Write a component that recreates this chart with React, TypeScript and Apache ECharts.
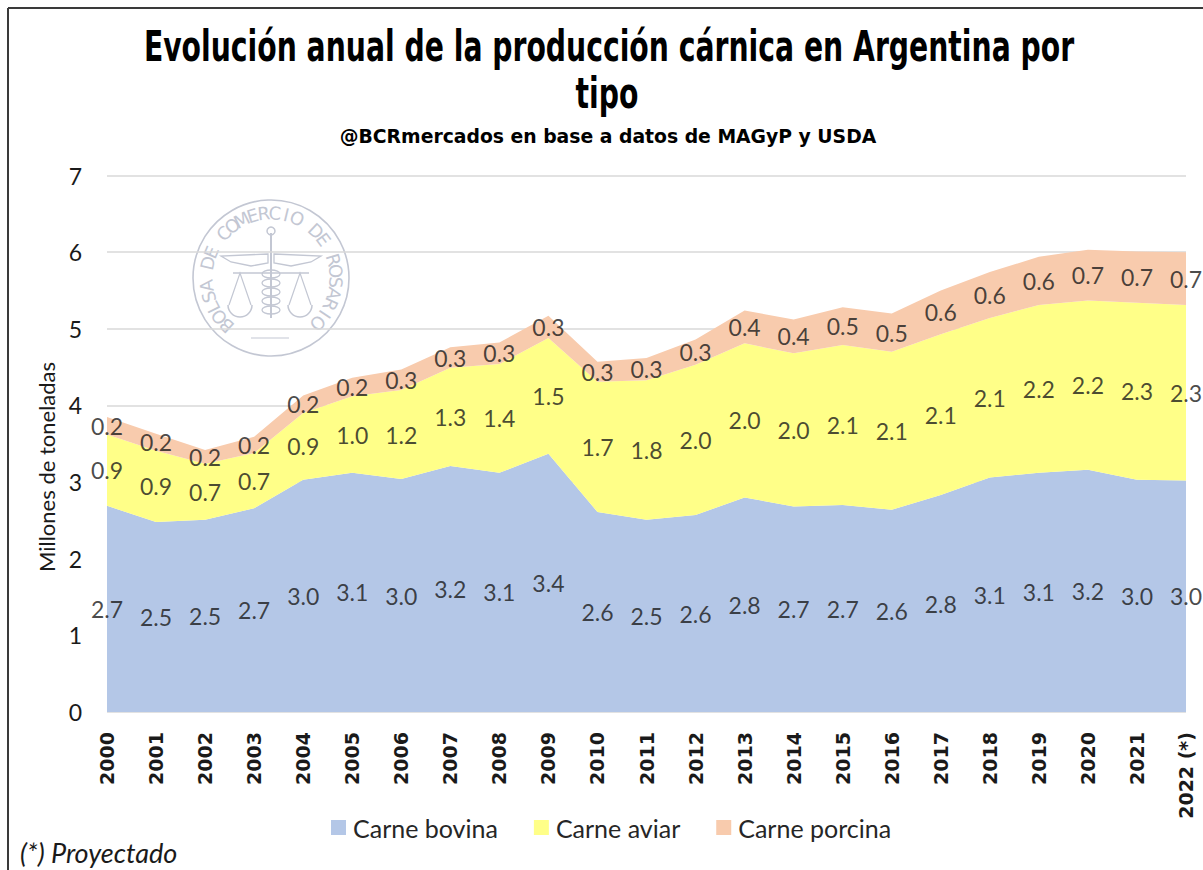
import React, { useEffect, useRef } from "react";
import * as echarts from "echarts";

const years = ["2000","2001","2002","2003","2004","2005","2006","2007","2008","2009","2010","2011","2012","2013","2014","2015","2016","2017","2018","2019","2020","2021","2022 (*)"];
const bovina = [2.69,2.48,2.51,2.66,3.03,3.12,3.04,3.21,3.12,3.37,2.61,2.51,2.57,2.80,2.68,2.70,2.64,2.83,3.06,3.12,3.16,3.03,3.02];
const aviar = [0.93,0.93,0.73,0.72,0.87,1.00,1.16,1.28,1.42,1.51,1.70,1.82,1.96,2.01,2.00,2.09,2.06,2.10,2.08,2.19,2.21,2.31,2.29];
const porcina = [0.23,0.22,0.18,0.21,0.23,0.24,0.27,0.27,0.28,0.29,0.26,0.29,0.33,0.43,0.44,0.49,0.50,0.57,0.60,0.63,0.66,0.67,0.69];
const seriesNames = ["Carne bovina", "Carne aviar", "Carne porcina"];
const colors = ["#B4C7E7", "#FFFF88", "#F8CBAD"];
const yMin = 0;
const yMax = 7;
const yStep = 1;
const titleLine1 = "Evolución anual de la producción cárnica en Argentina por";
const titleLine2 = "tipo";
const subtitle = "@BCRmercados en base a datos de MAGyP y USDA";
const yAxisTitle = "Millones de toneladas";
const footnote = "(*) Proyectado";
const sealText = "BOLSA DE COMERCIO DE ROSARIO";

const LABEL_FONT = "Lato, 'Open Sans', sans-serif";
const TITLE_FONT = "'DejaVu Sans', sans-serif";

function sealGraphics() {
  const cx = 271, cy = 278, r = 78, tr = 65;
  const col = "#c3c7d3";
  const els: any[] = [];
  els.push({ type: "circle", shape: { cx, cy, r }, style: { fill: "none", stroke: col, lineWidth: 1.6 }, silent: true });
  const start = -137, end = 134;
  const n = sealText.length;
  for (let i = 0; i < n; i++) {
    const ch = sealText[i];
    if (ch === " ") continue;
    const a = ((start + (end - start) * i / (n - 1)) * Math.PI) / 180;
    els.push({
      type: "text",
      x: cx + tr * Math.sin(a),
      y: cy - tr * Math.cos(a),
      rotation: -a,
      silent: true,
      style: { text: ch, fill: col, font: "18px 'DejaVu Sans', sans-serif", align: "center", verticalAlign: "middle" },
    });
  }
  els.push({ type: "line", shape: { x1: cx, y1: cy - 45, x2: cx, y2: cy + 40 }, style: { stroke: col, lineWidth: 2 }, silent: true });
  els.push({ type: "circle", shape: { cx, cy: cy - 47, r: 4 }, style: { fill: "none", stroke: col, lineWidth: 1.5 }, silent: true });
  els.push({ type: "polygon", shape: { points: [[cx - 3, cy - 24], [cx - 50, cy - 22], [cx - 40, cy - 16], [cx - 20, cy - 12], [cx - 3, cy - 15]] }, style: { fill: "none", stroke: col, lineWidth: 1.3 }, silent: true });
  els.push({ type: "polygon", shape: { points: [[cx + 3, cy - 24], [cx + 50, cy - 22], [cx + 40, cy - 16], [cx + 20, cy - 12], [cx + 3, cy - 15]] }, style: { fill: "none", stroke: col, lineWidth: 1.3 }, silent: true });
  for (let k = 0; k < 5; k++) {
    els.push({ type: "ellipse", shape: { cx, cy: cy - 4 + k * 9, rx: 9, ry: 4 }, style: { fill: "none", stroke: col, lineWidth: 1.3 }, silent: true });
  }
  els.push({ type: "line", shape: { x1: cx - 38, y1: cy - 5, x2: cx + 38, y2: cy - 5 }, style: { stroke: col, lineWidth: 1.5 }, silent: true });
  const pans = [cx - 31, cx + 29];
  pans.forEach((px) => {
    els.push({ type: "polyline", shape: { points: [[px - 11, cy + 27], [px, cy - 5], [px + 11, cy + 27]] }, style: { fill: "none", stroke: col, lineWidth: 1.2 }, silent: true });
    els.push({ type: "arc", shape: { cx: px, cy: cy + 27, r: 12, startAngle: 0, endAngle: Math.PI }, style: { fill: "none", stroke: col, lineWidth: 1.5 }, silent: true });
  });
  els.push({ type: "line", shape: { x1: cx - 20, y1: cy + 60, x2: cx + 18, y2: cy + 60 }, style: { stroke: col, lineWidth: 1.2 }, silent: true });
  return { type: "group", children: els, silent: true, z: -1 };
}

export default function App() {
  const ref = useRef<HTMLDivElement>(null);
  useEffect(() => {
    if (!ref.current) return;
    const chart = echarts.init(ref.current, null, { renderer: "svg" });
    const stacks = [bovina, aviar, porcina];
    const areaSeries = stacks.map((vals, si) => ({
      name: seriesNames[si],
      type: "line",
      stack: "total",
      data: vals,
      symbol: "none",
      lineStyle: { width: 0 },
      areaStyle: { color: colors[si], opacity: 1 },
      itemStyle: { color: colors[si] },
      z: 2,
      silent: true,
    }));
    const labelSeries = stacks.map((vals, si) => ({
      name: seriesNames[si] + "-labels",
      type: "scatter",
      symbolSize: 1,
      itemStyle: { color: "rgba(0,0,0,0)" },
      z: 5,
      silent: true,
      data: vals.map((v, i) => {
        let base = 0;
        for (let k = 0; k < si; k++) base += stacks[k][i];
        return { value: [i, base + v / 2], raw: v };
      }),
      label: {
        show: true,
        position: "inside",
        formatter: (p: any) => p.data.raw.toFixed(1),
        fontFamily: LABEL_FONT,
        fontSize: 23,
        color: "#1a1a1a",
      },
    }));
    chart.setOption({
      animation: false,
      color: colors,
      grid: { left: 107, right: 17, top: 175.5, bottom: 158, containLabel: false },
      legend: {
        data: seriesNames,
        left: 326,
        top: 810,
        icon: "rect",
        itemWidth: 15,
        itemHeight: 15,
        itemGap: 36,
        textStyle: { fontFamily: LABEL_FONT, fontSize: 25, color: "#262626", padding: [0, 0, 0, 2] },
      },
      xAxis: {
        type: "category",
        data: years,
        boundaryGap: false,
        axisLine: { show: false },
        axisTick: { show: false },
        axisLabel: {
          interval: 0,
          rotate: 90,
          margin: 20,
          fontFamily: "'DejaVu Sans', sans-serif",
          fontWeight: "bold",
          fontSize: 19,
          color: "#1a1a1a",
        },
      },
      yAxis: {
        type: "value",
        min: yMin,
        max: yMax,
        interval: yStep,
        axisLine: { show: false },
        axisTick: { show: false },
        splitLine: { lineStyle: { color: "#d9d9d9", width: 1.5 } },
        axisLabel: { margin: 25, fontFamily: LABEL_FONT, fontSize: 23, color: "#1a1a1a" },
      },
      graphic: [
        sealGraphics(),
        { type: "line", shape: { x1: 8, y1: 8, x2: 1203, y2: 8 }, style: { stroke: "#3a3a3a", lineWidth: 2 }, silent: true },
        { type: "line", shape: { x1: 8, y1: 8, x2: 8, y2: 870 }, style: { stroke: "#3a3a3a", lineWidth: 2 }, silent: true },
        { type: "text", x: 609, y: 46, scaleX: 0.673, style: { text: titleLine1, font: "bold 42px " + TITLE_FONT, fill: "#000", align: "center", verticalAlign: "middle" } },
        { type: "text", x: 607, y: 93, scaleX: 0.673, style: { text: titleLine2, font: "bold 42px " + TITLE_FONT, fill: "#000", align: "center", verticalAlign: "middle" } },
        { type: "text", x: 608, y: 136, scaleX: 0.94, style: { text: subtitle, font: "bold 20px " + TITLE_FONT, fill: "#000", align: "center", verticalAlign: "middle" } },
        { type: "text", x: 46, y: 467, rotation: Math.PI / 2, style: { text: yAxisTitle, font: "22px " + LABEL_FONT, fill: "#1a1a1a", align: "center", verticalAlign: "middle" } },
        { type: "text", x: 20, y: 852, style: { text: footnote, font: "italic 27px " + LABEL_FONT, fill: "#1a1a1a", align: "left", verticalAlign: "middle" } },
      ],
      series: [...areaSeries, ...labelSeries],
    });
    return () => chart.dispose();
  }, []);
  return <div ref={ref} style={{ position: "fixed", left: 0, top: 0, width: 1203, height: 870, background: "#fff" }} />;
}
